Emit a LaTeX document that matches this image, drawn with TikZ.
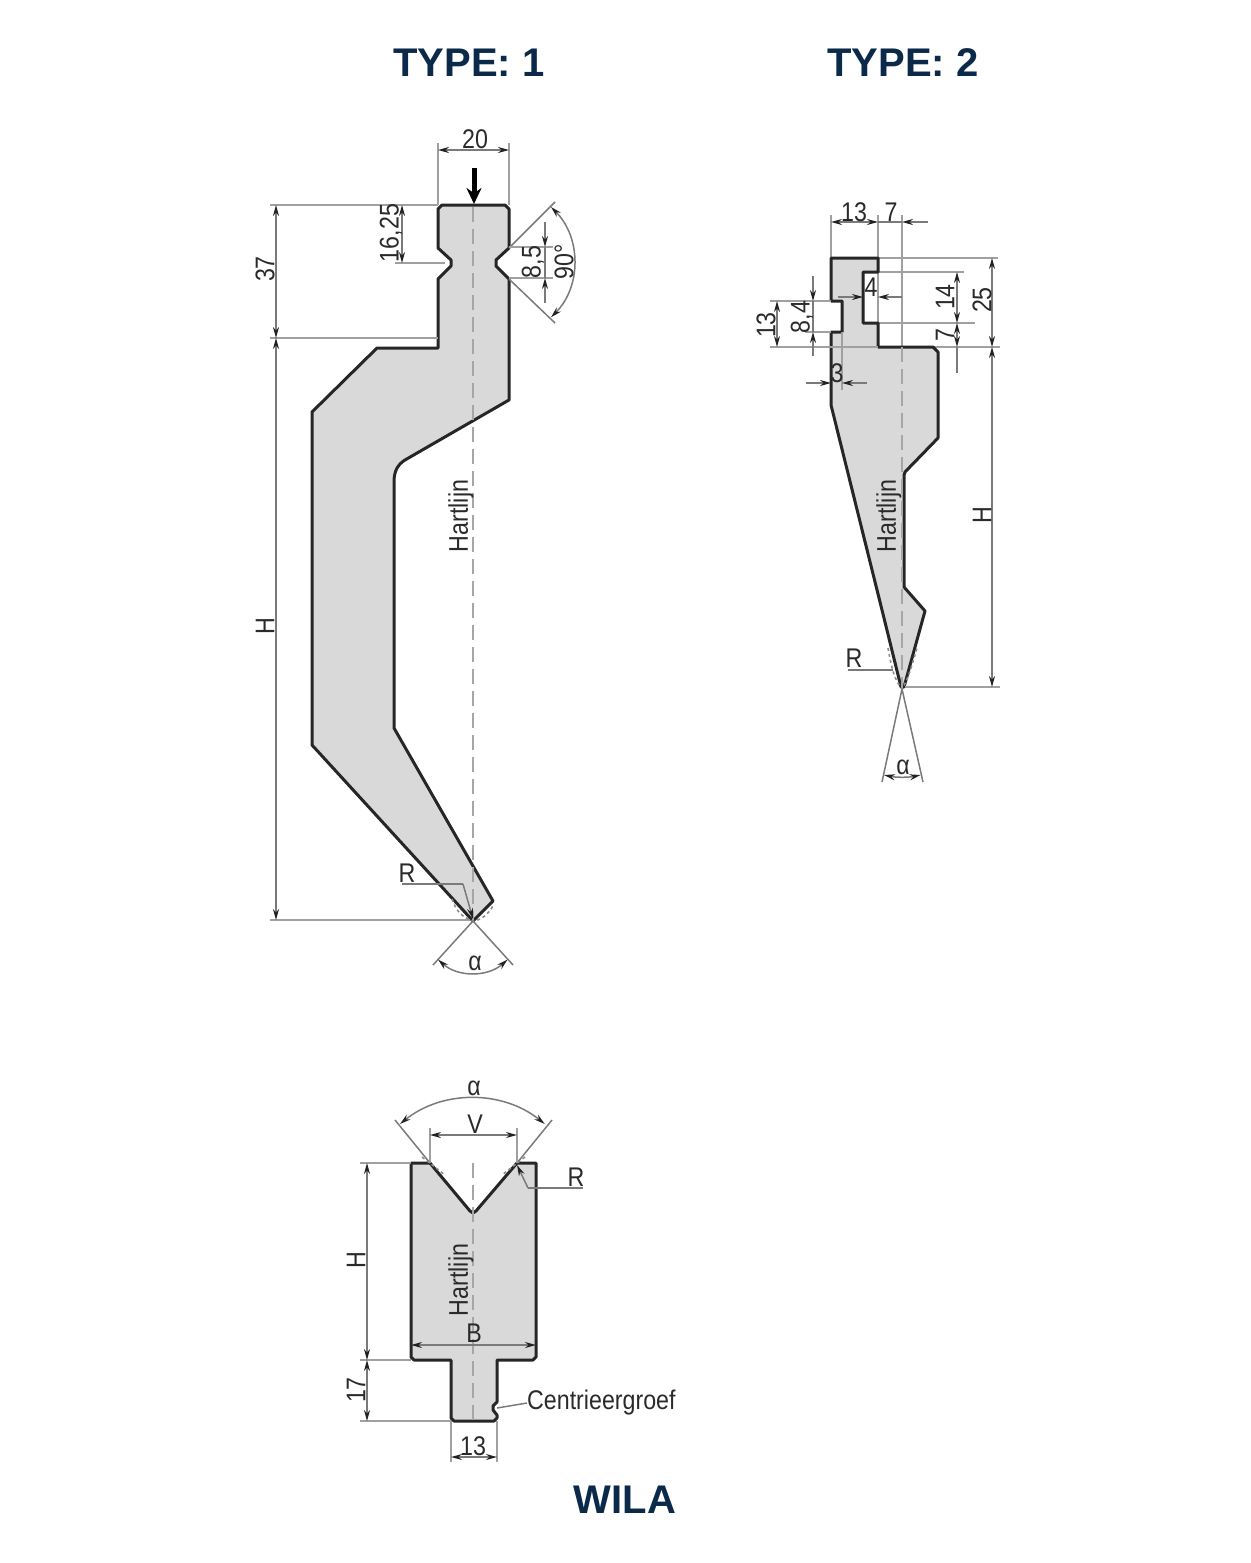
\documentclass[tikz,border=0pt]{standalone}
\usepackage{fontspec}
\usetikzlibrary{arrows.meta}
\setmainfont{Liberation Sans}
\newfontfamily\condfont[FakeStretch=0.86]{Liberation Sans}
\definecolor{navy}{HTML}{0B2A4A}
\definecolor{toolfill}{HTML}{D9D9D9}
\definecolor{dimline}{HTML}{7A7A7A}
\definecolor{extline}{HTML}{A0A0A0}
\definecolor{labelink}{HTML}{2A2A2A}
\definecolor{tipink}{HTML}{222222}
\tikzset{
  dimtip/.tip={Stealth[length=11pt,width=6pt,color=tipink]},
  tool/.style={draw=black!85,line width=3pt,fill=toolfill,line join=round},
  ext/.style={draw=extline,line width=1.8pt},
  dimen/.style={draw=dimline,line width=1.5pt,dimtip-dimtip},
  dimr/.style={draw=dimline,line width=1.5pt,-dimtip},
  leader/.style={draw=dimline,line width=1.5pt},
  center line/.style={draw=black!35,line width=1.3pt,dash pattern=on 15pt off 7pt},
  tol/.style={draw=black!45,line width=1.6pt,dash pattern=on 3pt off 3pt},
  lab/.style={text=labelink,inner sep=0pt,font=\condfont\fontsize{27}{27}\selectfont},
  vlab/.style={lab,rotate=90},
  title/.style={text=navy,inner sep=0pt,font=\bfseries\fontsize{40}{40}\selectfont},
}
\begin{document}
\begin{tikzpicture}[x=1pt,y=-1pt]
\useasboundingbox (0,0) rectangle (1250,1563);
\node[title] (t1) at (469,63) {TYPE: 1};
\node[title] (t2) at (903,63) {TYPE: 2};
\node[title] (t3) at (625,1500) {WILA};

%% ---------- TYPE 1 ----------
\draw[tool] (442,205) -- (505,205) -- (509,209) -- (509,248) -- (496,260) -- (496,266) -- (509,279) -- (509,400)
  -- (405,460) .. controls (397,465) and (394,472) .. (394,482) -- (394,728) -- (493,901) -- (473,921)
  -- (312,745) -- (312,412) -- (377,348) -- (438,348) -- (438,279) -- (451,266) -- (451,260) -- (438,248) -- (438,209) -- cycle;
\draw[center line] (473,207) -- (473,920);
% 20
\draw[ext] (438,143) -- (438,205);
\draw[ext] (509,143) -- (509,205);
\draw[dimen] (438,150) -- (509,150);
\node[lab] (d20) at (475,139) {20};
\draw[-{Stealth[length=16pt,width=15pt]},line width=5pt,black] (474,168) -- (474,204);
% 37 / H
\draw[ext] (270,205) -- (438,205);
\draw[ext] (270,338) -- (438,338);
\draw[ext] (270,920) -- (470,920);
\draw[dimen] (276,205) -- (276,338);
\draw[dimen] (276,338) -- (276,920);
\node[vlab] (d37) at (265,269) {37};
\node[vlab] (dH1) at (265,626) {H};
% 16,25
\draw[ext] (395,263) -- (445,263);
\draw[dimen] (402,205) -- (402,263);
\node[vlab] (d16) at (391,233) {16,25};
% 8,5 and 90
\draw[leader] (509,248) -- (555,202);
\draw[leader] (509,279) -- (555,323);
\draw[ext] (509,247) -- (553,247);
\draw[ext] (509,278) -- (553,278);
\draw[dimr] (545,222) -- (545,247);
\draw[dimr] (545,303) -- (545,278);
\draw[leader] (545,247) -- (545,278);
\draw[leader,dimtip-dimtip] (551,207) arc (-45:45:78);
\node[vlab] (d85) at (533,262) {8,5};
\node[vlab] (d90) at (564,262) {90°};
% hartlijn
\node[vlab] (h1) at (461,516) {Hartlijn};
% R
\node[lab] (r1) at (407,873) {R};
\draw[leader] (402,884) -- (463,884);
\draw[dimr] (463,884) -- (473,919);
\draw[tol] (452,899) .. controls (456,912) and (464,918) .. (473,921) .. controls (482,920) and (488,914) .. (493,906);
% alpha
\draw[leader] (473,921) -- (433,965);
\draw[leader] (473,921) -- (513,965);
\draw[leader,dimtip-dimtip] (438,959.5) arc (132:48:52);
\node[lab] (a1) at (475,963) {α};

%% ---------- TYPE 2 ----------
\draw[ext] (831,215) -- (831,258);
\draw[ext] (878,215) -- (878,347);
\draw[ext] (902,215) -- (902,347);
\draw[ext] (878,258) -- (998,258);
\draw[ext] (878,347) -- (1000,347);
\draw[ext] (863,272) -- (964,272);
\draw[ext] (878,323) -- (975,323);
\draw[tool] (831,258) -- (878,258) -- (878,272) -- (863,272) -- (863,323) -- (878,323) -- (878,347) -- (933,347) -- (938,352)
  -- (938,438) -- (905,472) -- (904,475) -- (904,587) -- (925,611) -- (904,687) -- (901,687) -- (882,610) -- (831,405)
  -- (831,332) -- (842,332) -- (842,301) -- (831,301) -- cycle;
\draw[center line] (902,347) -- (902,688);
\draw[dimen] (831,222) -- (878,222);
\draw[dimr] (928,222) -- (902,222);
\draw[leader] (878,222) -- (902,222);
\node[lab] (d13a) at (854,212) {13};
\node[lab] (d7a) at (891,212) {7};
% right side
\draw[ext] (770,347) -- (878,347);
\draw[ext] (905,687) -- (1000,687);
\draw[dimen] (992,258) -- (992,347);
\draw[dimen] (992,347) -- (992,687);
\draw[dimen] (957,272) -- (957,323);
\draw[dimen] (957,323) -- (957,347);
\draw[leader] (957,347) -- (957,373);
\node[vlab] (d25) at (982,300) {25};
\node[vlab] (dH2) at (982,515) {H};
\node[vlab] (d14) at (945,297) {14};
\node[vlab] (d7b) at (945,335) {7};
% 4
\draw[dimr] (838,297) -- (863,297);
\draw[dimr] (902,297) -- (878,297);
\node[lab] (d4) at (871,287) {4};
% left side
\draw[ext] (770,301) -- (831,301);
\draw[ext] (805,332) -- (831,332);
\draw[dimen] (777,301) -- (777,347);
\node[vlab] (d13b) at (766,325) {13};
\draw[dimr] (813,276) -- (813,301);
\draw[dimr] (813,356) -- (813,332);
\draw[leader] (813,301) -- (813,332);
\node[vlab] (d84) at (802,317) {8,4};
% 3
\draw[ext] (842,332) -- (842,390);
\draw[dimr] (806,383) -- (831,383);
\draw[dimr] (867,383) -- (842,383);
\node[lab] (d3) at (837,373) {3};
\node[vlab] (h2) at (889,516) {Hartlijn};
% R
\node[lab] (r2) at (854,658) {R};
\draw[leader] (848,670) -- (893,670);
\draw[tol] (888,648) .. controls (891,665) and (894,680) .. (902,689) .. controls (908,680) and (912,665) .. (917,648);
% alpha
\draw[leader] (902,689) -- (882,782);
\draw[leader] (902,689) -- (923,782);
\draw[leader,dimtip-dimtip] (884,775) arc (102:78:88);
\node[lab] (a2) at (903,767) {α};

%% ---------- WILA ----------
\draw[tool] (411,1163) -- (430,1163) -- (470,1211) -- (473,1213) -- (476,1211) -- (517,1163) -- (536,1163) -- (536,1357) -- (533,1360)
  -- (497,1360) -- (497,1402) -- (493,1406) -- (493,1410) -- (497,1415) -- (497,1418) -- (494,1421) -- (454,1421) -- (451,1418)
  -- (451,1360) -- (414,1360) -- (411,1357) -- cycle;
\draw[center line] (473,1163) -- (473,1421);
\draw[tol] (422,1157) -- (445,1175);
\draw[tol] (525,1157) -- (502,1175);
% alpha
\draw[leader] (430,1163) -- (395,1120);
\draw[leader] (517,1163) -- (552,1120);
\draw[leader,dimtip-dimtip] (400,1124) arc (231:309:115);
\node[lab] (a3) at (474,1088) {α};
% V
\draw[ext] (430,1128) -- (430,1163);
\draw[ext] (517,1128) -- (517,1163);
\draw[dimen] (430,1135) -- (517,1135);
\node[lab] (dV) at (475,1124) {V};
% R
\node[lab] (r3) at (576,1177) {R};
\draw[leader] (583,1188) -- (528,1188);
\draw[dimr] (528,1188) -- (517,1165);
% H / 17
\draw[ext] (360,1163) -- (411,1163);
\draw[ext] (360,1360) -- (411,1360);
\draw[ext] (360,1421) -- (451,1421);
\draw[dimen] (367,1163) -- (367,1360);
\draw[dimen] (367,1360) -- (367,1421);
\node[vlab] (dH3) at (356,1260) {H};
\node[vlab] (d17) at (356,1390) {17};
\node[vlab] (h3) at (461,1280) {Hartlijn};
% B
\draw[dimen] (411,1345) -- (536,1345);
\node[lab] (dB) at (474,1333) {B};
% 13
\draw[ext] (451,1421) -- (451,1462);
\draw[ext] (497,1421) -- (497,1462);
\draw[dimen] (451,1457) -- (497,1457);
\node[lab] (d13c) at (473,1446) {13};
% groove
\node[lab,anchor=west] (cg) at (527,1403) {Centrieergroef};
\draw[leader] (497,1408) -- (cg.west);
\end{tikzpicture}
\end{document}
